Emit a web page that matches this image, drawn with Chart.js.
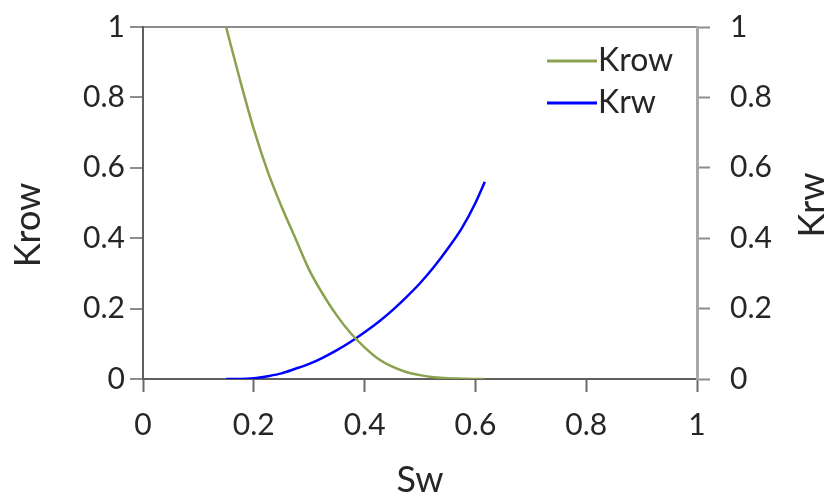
<!DOCTYPE html>
<html>
<head>
<meta charset="utf-8">
<script src="https://cdn.jsdelivr.net/npm/chart.js@4"></script>
<style>
  html, body { margin: 0; padding: 0; background: #fff; }
  #wrap { width: 829px; height: 497px; }
</style>
</head>
<body>
<div id="wrap"><canvas id="kr"></canvas></div>
<script>
// Sw / relative permeability readings
const sw   = [0.15, 0.175, 0.2, 0.225, 0.25, 0.275, 0.3, 0.325, 0.35, 0.375, 0.4, 0.425, 0.45, 0.475, 0.5, 0.525, 0.55, 0.575, 0.6, 0.617];
const krow = [1.0, 0.85, 0.71, 0.59, 0.49, 0.40, 0.31, 0.24, 0.18, 0.13, 0.09, 0.057, 0.035, 0.02, 0.011, 0.005, 0.002, 0.001, 0, 0];
const krw  = [0, 0, 0.002, 0.008, 0.016, 0.029, 0.043, 0.061, 0.082, 0.106, 0.133, 0.162, 0.195, 0.232, 0.272, 0.318, 0.37, 0.427, 0.50, 0.56];
const tickValues = [0, 0.2, 0.4, 0.6, 0.8, 1];

const FONT = 'Lato, "Open Sans", sans-serif';
const TEXT = '#262626';

function toPoints(ys) {
    return sw.map((x, i) => ({ x, y: ys[i] }));
}

function fixedTicks(scale) {
    scale.ticks = tickValues.map(v => ({ value: v }));
}

// vertical axes: fixed width, no extra label padding above/below
function fitY(width) {
    return s => {
        s.width = width;
        s.paddingTop = 0;
        s.paddingBottom = 0;
    };
}

// legend + rotated y titles drawn on top
const overlay = {
    id: 'overlay',
    afterDraw(chart) {
        const ctx = chart.ctx;
        ctx.save();
        chart.data.datasets.forEach((ds, i) => {
            const y = 61 + i * 42;
            ctx.strokeStyle = ds.borderColor;
            ctx.lineWidth = 3;
            ctx.beginPath();
            ctx.moveTo(547, y);
            ctx.lineTo(597, y);
            ctx.stroke();
            ctx.fillStyle = TEXT;
            ctx.font = '32px ' + FONT;
            ctx.textBaseline = 'middle';
            ctx.textAlign = 'left';
            ctx.fillText(ds.label, 598, y);
        });

        ctx.font = '36px ' + FONT;
        ctx.textAlign = 'center';
        ctx.textBaseline = 'middle';
        [['Krow', 28, 225], ['Krw', 812, 205]].forEach(([t, x, y]) => {
            ctx.save();
            ctx.translate(x, y);
            ctx.rotate(-Math.PI / 2);
            ctx.fillText(t, 0, 0);
            ctx.restore();
        });
        ctx.restore();
    }
};

new Chart(document.getElementById('kr'), {
    type: 'scatter',
    data: {
        datasets: [
            {
                label: 'Krow',
                data: toPoints(krow),
                borderColor: '#8aa24e',
                borderWidth: 2.5,
                showLine: true,
                pointRadius: 0,
                cubicInterpolationMode: 'monotone',
                yAxisID: 'y'
            },
            {
                label: 'Krw',
                data: toPoints(krw),
                borderColor: '#0000ff',
                borderWidth: 2.5,
                showLine: true,
                pointRadius: 0,
                cubicInterpolationMode: 'monotone',
                yAxisID: 'y2'
            }
        ]
    },
    options: {
        responsive: true,
        maintainAspectRatio: false,
        animation: false,
        layout: { padding: { top: 27 } },
        plugins: {
            legend: { display: false },
            tooltip: { enabled: false }
        },
        scales: {
            x: {
                type: 'linear',
                min: 0,
                max: 1,
                afterBuildTicks: fixedTicks,
                afterFit: s => { s.height = 118; },
                border: { color: '#5f5f5f', width: 2 },
                grid: { drawOnChartArea: false, tickLength: 13, tickColor: '#6a6a6a', tickWidth: 2 },
                ticks: { color: TEXT, font: { family: FONT, size: 30 }, padding: 15, callback: v => String(v) },
                title: { display: true, text: 'Sw', color: TEXT, font: { family: FONT, size: 36, lineHeight: 0.9 }, padding: 0 }
            },
            y: {
                position: 'left',
                min: 0,
                max: 1,
                afterBuildTicks: fixedTicks,
                afterFit: fitY(143),
                border: { color: '#5f5f5f', width: 2 },
                grid: {
                    drawOnChartArea: true,
                    color: c => (c.tick && c.tick.value === 1) ? '#8c8c8c' : 'rgba(0,0,0,0)',
                    lineWidth: 2,
                    tickLength: 13,
                    tickColor: '#8c8c8c',
                    tickWidth: 2
                },
                ticks: { color: TEXT, font: { family: FONT, size: 30 }, padding: 5, callback: v => String(v) }
            },
            y2: {
                position: 'right',
                min: 0,
                max: 1,
                afterBuildTicks: fixedTicks,
                afterFit: fitY(132),
                border: { color: '#a8a8a8', width: 3 },
                grid: { drawOnChartArea: false, tickLength: 13, tickColor: '#8c8c8c', tickWidth: 2 },
                ticks: { color: TEXT, font: { family: FONT, size: 30 }, padding: 20, callback: v => String(v) }
            }
        }
    },
    plugins: [overlay]
});
</script>
</body>
</html>
